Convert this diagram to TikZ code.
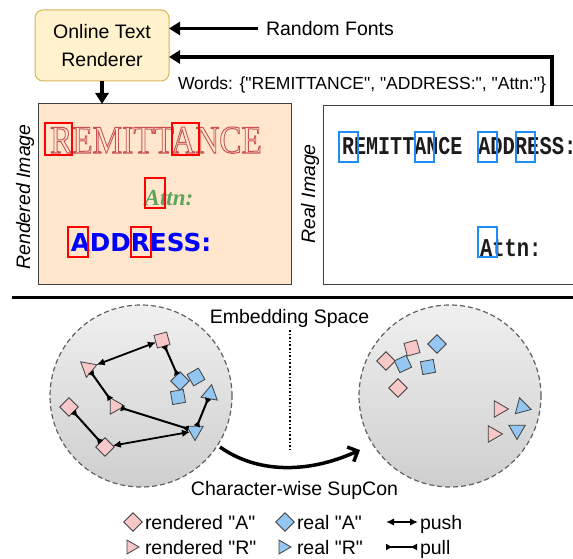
\documentclass[tikz,border=0pt]{standalone}
\usepackage{fontspec}
\usepackage{graphicx}
\setmainfont{Liberation Sans}[Ligatures=TeXOff]
\newfontfamily\monofont{Liberation Mono}
\newfontfamily\seriffont{Liberation Serif}[Ligatures=TeXOff]
\newfontfamily\heavyfont{DejaVu Sans}
\usetikzlibrary{arrows.meta,shapes.geometric}
\definecolor{pinkc}{HTML}{F8C8C8}
\definecolor{bluec}{HTML}{94C6F2}
\definecolor{bordc}{HTML}{404040}
\definecolor{rendfill}{HTML}{FFF2CC}
\definecolor{renddraw}{HTML}{D6B656}
\definecolor{peach}{HTML}{FFE6CC}
\definecolor{boxblue}{HTML}{1E8CF5}
\definecolor{outred}{HTML}{C85050}
\definecolor{attngreen}{HTML}{5DA55D}
\definecolor{realtext}{HTML}{1C1C1C}
\newcommand{\strokeon}{\special{pdf:literal direct 1 Tr 1 w}}
\newcommand{\strokeoff}{\special{pdf:literal direct 0 Tr}}
\begin{document}
\begin{tikzpicture}[x=1pt,y=-1pt,
  every node/.style={inner sep=0pt, outer sep=0pt},
  lbl/.style={font=\fontsize{19.5}{23}\selectfont},
  shp/.style={draw=bordc, line width=0.8pt},
  sq/.style={shp, rectangle, minimum size=13pt},
  tri/.style={shp, regular polygon, regular polygon sides=3, minimum size=19pt},
  ltri/.style={shp, regular polygon, regular polygon sides=3, minimum size=16pt},
  pk/.style={fill=pinkc}, bl/.style={fill=bluec},
  push/.style={line width=1.8pt, {Latex[length=8pt,width=7.5pt]}-{Latex[length=8pt,width=7.5pt]}},
  pull/.style={line width=2pt, {Latex[reversed,length=7pt,width=7pt]}-{Latex[reversed,length=7pt,width=7pt]}},
  bigarrow/.style={line width=3.5pt, -{Triangle[length=11pt,width=13pt]}},
  redbox/.style={draw=red, line width=2pt},
  bluebox/.style={draw=boxblue, line width=2pt},
  realfont/.style={text=realtext, font=\monofont\bfseries\fontsize{20.5}{24}\selectfont},
  space/.style={circle, minimum size=182pt, draw=gray!75!black, dash pattern=on 5pt off 3pt, line width=1.2pt, top color=gray!12, bottom color=gray!38}
]
\useasboundingbox (0,0) rectangle (573,559);
\clip (0,0) rectangle (573,559);

% ---------- top part ----------
\node[draw=renddraw, fill=rendfill, line width=1pt, rounded corners=8pt,
      minimum width=134pt, minimum height=71pt, align=center,
      font=\fontsize{19.5}{27.5}\selectfont] (renderer) at (102,45.5) {Online Text\\Renderer};

\node[lbl, anchor=base west] (fonts) at (266,35.5) {Random Fonts};
\coordinate (fsrc) at (258,28.5);
\draw[bigarrow] (fsrc) -- (renderer.east |- fsrc);

\node[anchor=base west, font=\fontsize{17.5}{21}\selectfont] (words) at (178,89.5)
  {Words: \{"REMITTANCE", "ADDRESS:", "Attn:"\}};

\node[draw=bordc, fill=peach, line width=1pt, anchor=north west,
      minimum width=253pt, minimum height=180pt] (rendered) at (38,104) {};
\node[draw=bordc, fill=white, line width=1pt, anchor=north west,
      minimum width=270pt, minimum height=178pt] (real) at (323,106) {};

\coordinate (wcorner) at (552,57);
\draw[line width=3.5pt, -{Triangle[length=11pt,width=13pt]}]
  (real.north -| wcorner) -- (wcorner) -- (renderer.east |- wcorner);
\draw[bigarrow] (renderer.south) -- (rendered.north -| renderer.south);

\node[font=\fontsize{19.5}{23}\selectfont\itshape, rotate=90] (rlab) at (25,197) {Rendered Image};
\node[font=\fontsize{19.5}{23}\selectfont\itshape, rotate=90] (reallab) at (310,194) {Real Image};

% rendered words
\node[anchor=base, text=outred, font=\seriffont\fontsize{39.3}{40}\selectfont] (remit) at (156,153)
  {\strokeon\scalebox{0.846}[1]{REMITTANCE}\strokeoff};
\node[anchor=base, text=attngreen, font=\seriffont\bfseries\itshape\fontsize{23}{26}\selectfont] (attn) at (169,205) {Attn:};
\node[anchor=base, text=blue, font=\heavyfont\bfseries\fontsize{24.7}{28}\selectfont] (addr) at (141,251) {ADDRESS:};
\draw[redbox] (45,123) rectangle (72,155);
\draw[redbox] (172,123) rectangle (199,155);
\draw[redbox] (145,178) rectangle (165,208);
\draw[redbox] (68,227) rectangle (88,257);
\draw[redbox] (131,227) rectangle (151,257);

% real words
\node[anchor=base west, realfont] (realw1) at (342,155) {\scalebox{0.98}[1.25]{REMITTANCE}};
\node[anchor=base west, realfont] (realw2) at (478,155) {\scalebox{1}[1.25]{ADDRESS:}};
\node[anchor=base west, realfont] (realattn) at (480,256) {\scalebox{1}[1.25]{Attn:}};
\draw[bluebox] (339,132) rectangle (358,162);
\draw[bluebox] (415,132) rectangle (434,162);
\draw[bluebox] (478,132) rectangle (497,162);
\draw[bluebox] (516,132) rectangle (535,162);
\draw[bluebox] (478,227) rectangle (497,257);

% separator
\coordinate (sepL) at (12,297);
\coordinate (sepR) at (575,297);
\draw[line width=3pt] (sepL) -- (sepR);

% ---------- embedding space ----------
\node[lbl, anchor=base] (emb) at (289.5,323) {Embedding Space};
\coordinate (dtop) at (290,330);
\coordinate (dbot) at (290,450);
\draw[line width=1.6pt, dotted] (dtop) -- (dbot);

\node[space] (lc) at (141,396) {};
\node[space] (rc) at (450,396) {};

% left circle shapes
\node[sq, pk, rotate=15] (L1) at (162,340) {};
\node[tri, pk, rotate=-70] (L2) at (88,368) {};
\node[sq, bl, rotate=45] (L3) at (180,381) {};
\node[sq, bl, rotate=30] (L4) at (196,377) {};
\node[sq, bl, rotate=10] (L5) at (178,397) {};
\node[tri, bl, rotate=-10] (L6) at (210,394) {};
\node[sq, pk, rotate=45] (L7) at (69,407) {};
\node[tri, pk, rotate=-90] (L8) at (115,406) {};
\node[tri, bl, rotate=180] (L9) at (195,431) {};
\node[sq, pk, rotate=45] (L10) at (105,447) {};

\draw[push] (L1) -- (L2);
\draw[pull] (L1) -- (L3);
\draw[pull] (L2) -- (L8);
\draw[pull] (L8) -- (L9);
\draw[pull] (L9) -- (L6);
\draw[pull] (L7) -- (L10);
\draw[push] (L10) -- (L9);

% right circle shapes
\node[sq, pk, rotate=45] (R1) at (386,361) {};
\node[sq, pk, rotate=15] (R2) at (412,348) {};
\node[sq, bl, rotate=45] (R3) at (437,344) {};
\node[sq, bl, rotate=25] (R4) at (403,364) {};
\node[sq, bl, rotate=10] (R5) at (428,367) {};
\node[sq, pk, rotate=45] (R6) at (398,388) {};
\node[tri, pk, rotate=-90] (R7) at (499,409) {};
\node[tri, bl, rotate=15] (R8) at (522,407) {};
\node[tri, pk, rotate=-90] (R9) at (493,434) {};
\node[tri, bl, rotate=180] (R10) at (517,430) {};

% curved arrow
\coordinate (cs) at (220,447);
\coordinate (ce) at (360,450);
\draw[line width=3.5pt, -{Straight Barb[length=8pt,width=16pt]}] (cs) .. controls (255,472) and (305,475) .. (ce);
\node[lbl, anchor=base] (supcon) at (294.5,495) {Character-wise SupCon};

% ---------- legend ----------
\node[sq, pk, rotate=45] (lg1) at (133,522) {};
\node[lbl, anchor=base west] (lt1) at (145,529) {rendered "A"};
\node[sq, bl, rotate=45] (lg2) at (285,522) {};
\node[lbl, anchor=base west] (lt2) at (297,529) {real "A"};
\coordinate (pa) at (386,522);
\coordinate (pb) at (418,522);
\draw[push] (pa) -- (pb);
\node[lbl, anchor=base west] (lt3) at (420,529) {push};

\node[ltri, pk, rotate=-90] (lg3) at (131,547) {};
\node[lbl, anchor=base west] (lt4) at (145,554) {rendered "R"};
\node[ltri, bl, rotate=-90] (lg4) at (283,547) {};
\node[lbl, anchor=base west] (lt5) at (297,554) {real "R"};
\coordinate (qa) at (386,547);
\coordinate (qb) at (417,547);
\draw[pull] (qa) -- (qb);
\node[lbl, anchor=base west] (lt6) at (420,554) {pull};
\end{tikzpicture}
\end{document}
